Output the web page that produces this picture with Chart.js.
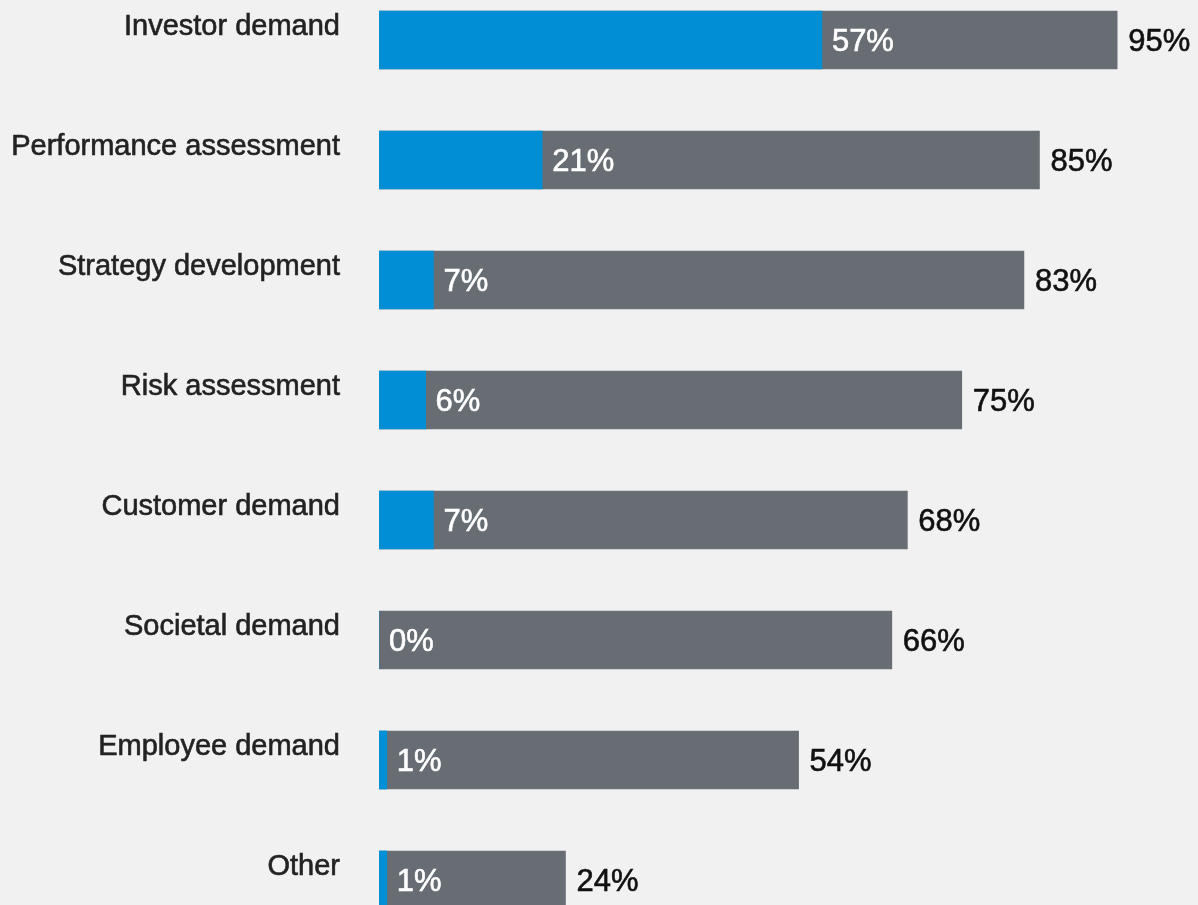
<!DOCTYPE html>
<html>
<head>
<meta charset="utf-8">
<script src="https://cdn.jsdelivr.net/npm/chart.js@4"></script>
<style>
  html, body { margin: 0; padding: 0; background: #f0f1f0; overflow: hidden; }
  #wrap { position: relative; width: 1198px; height: 905px; overflow: hidden; }
  #chart { position: absolute; left: 0; top: -20px; }
</style>
</head>
<body>
<div id="wrap"><canvas id="chart" width="1198" height="960"></canvas></div>
<script>
// 数据
var categories = ['Investor demand', 'Performance assessment', 'Strategy development',
  'Risk assessment', 'Customer demand', 'Societal demand', 'Employee demand', 'Other'];
var primaryValues = [57, 21, 7, 6, 7, 0, 1, 1];
var totalValues = [95, 85, 83, 75, 68, 66, 54, 24];

var fontFamily = '"Liberation Sans", Arial, Helvetica, sans-serif';

// 数值标签
var valueLabels = {
  id: 'valueLabels',
  afterDatasetsDraw: function(chart) {
    var ctx = chart.ctx;
    var blue = chart.getDatasetMeta(0).data;
    var gray = chart.getDatasetMeta(1).data;
    ctx.save();
    ctx.font = '31px ' + fontFamily;
    ctx.textBaseline = 'middle';
    ctx.textAlign = 'left';
    ctx.lineWidth = 0.6;
    for (var i = 0; i < categories.length; i++) {
      ctx.fillStyle = ctx.strokeStyle = '#ffffff';
      ctx.fillText(primaryValues[i] + '%', blue[i].x + 10, blue[i].y + 2);
      ctx.strokeText(primaryValues[i] + '%', blue[i].x + 10, blue[i].y + 2);
      ctx.fillStyle = ctx.strokeStyle = '#111111';
      ctx.fillText(totalValues[i] + '%', gray[i].x + 11, gray[i].y + 2);
      ctx.strokeText(totalValues[i] + '%', gray[i].x + 11, gray[i].y + 2);
    }
    ctx.restore();
  }
};

new Chart(document.getElementById('chart'), {
  type: 'bar',
  data: {
    labels: categories,
    datasets: [{
      data: primaryValues,
      backgroundColor: '#008fd5',
      barThickness: 58,
      grouped: false
    }, {
      data: totalValues,
      backgroundColor: '#676d73',
      barThickness: 58,
      grouped: false
    }]
  },
  options: {
    indexAxis: 'y',
    responsive: false,
    animation: false,
    layout: { padding: { top: 0, bottom: 0, left: 0, right: 42 } },
    plugins: {
      legend: { display: false },
      tooltip: { enabled: false }
    },
    scales: {
      x: {
        display: false,
        min: 0,
        max: 100
      },
      y: {
        afterFit: function(scale) {
          scale.width = 379;
          scale.paddingTop = 0;
          scale.paddingBottom = 0;
        },
        grid: { display: false, drawTicks: false },
        border: { display: false },
        ticks: {
          color: '#222222',
          padding: 39,
          labelOffset: -13,
          textStrokeColor: '#222222',
          textStrokeWidth: 0.6,
          font: { family: fontFamily, size: 29 }
        }
      }
    }
  },
  plugins: [valueLabels]
});
</script>
</body>
</html>
